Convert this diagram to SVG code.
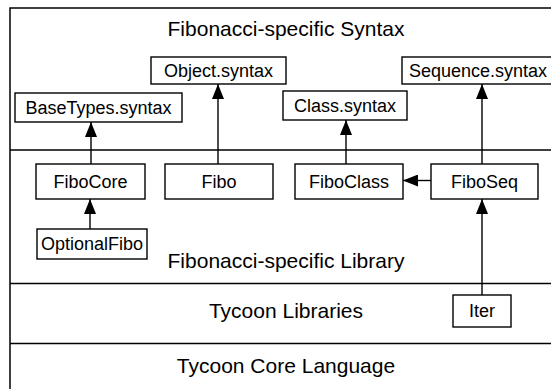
<svg xmlns="http://www.w3.org/2000/svg" width="551" height="389" viewBox="0 0 551 389">
<style>
.frame{stroke:#000;stroke-width:1.5;fill:none}
.box{fill:#fff;stroke:#000;stroke-width:1.4}
.lbl{font-family:"Liberation Sans",Arial,sans-serif;font-size:18px;fill:#000;text-anchor:middle}
.ttl{font-family:"Liberation Sans",Arial,sans-serif;font-size:21px;fill:#000;text-anchor:middle}
.edge{stroke:#000;stroke-width:1.4;fill:none;marker-end:url(#ah)}
</style>
<defs>
<marker id="ah" markerWidth="15" markerHeight="12" refX="15" refY="6" orient="auto" markerUnits="userSpaceOnUse" viewBox="0 0 15 12">
<path d="M0,0 L15,6 L0,12 Z" fill="#000"/>
</marker>
</defs>
<rect width="551" height="389" fill="#fff"/>
<g id="layers">
<path class="frame" d="M10,389 V8 H551 M10,150 H551 M10,283.5 H551 M10,343.5 H551"/>
<text class="ttl" x="286" y="36">Fibonacci-specific Syntax</text>
<text class="ttl" x="286" y="268">Fibonacci-specific Library</text>
<text class="ttl" x="286" y="318">Tycoon Libraries</text>
<text class="ttl" x="286" y="373">Tycoon Core Language</text>
</g>
<g id="connectors">
<line class="edge" x1="91" y1="164" x2="91" y2="122"/>
<line class="edge" x1="218" y1="164" x2="218" y2="84"/>
<line class="edge" x1="346" y1="164" x2="346" y2="120"/>
<line class="edge" x1="482" y1="164" x2="482" y2="84"/>
<line class="edge" x1="431" y1="180.5" x2="403" y2="180.5"/>
<line class="edge" x1="90" y1="229" x2="90" y2="199"/>
<line class="edge" x1="482" y1="295" x2="482" y2="199"/>
</g>
<g id="BaseTypes.syntax"><rect class="box" x="15" y="93" width="167" height="29"/><text class="lbl" x="98.5" y="114">BaseTypes.syntax</text></g>
<g id="Object.syntax"><rect class="box" x="151" y="57" width="135" height="27"/><text class="lbl" x="218.5" y="77">Object.syntax</text></g>
<g id="Class.syntax"><rect class="box" x="283" y="91" width="124" height="29"/><text class="lbl" x="345" y="112">Class.syntax</text></g>
<g id="Sequence.syntax"><rect class="box" x="402" y="57" width="152" height="27"/><text class="lbl" x="478" y="77">Sequence.syntax</text></g>
<g id="FiboCore"><rect class="box" x="36" y="164" width="109" height="35"/><text class="lbl" x="90.5" y="188">FiboCore</text></g>
<g id="Fibo"><rect class="box" x="165" y="164" width="108" height="35"/><text class="lbl" x="219" y="188">Fibo</text></g>
<g id="FiboClass"><rect class="box" x="295" y="164" width="108" height="35"/><text class="lbl" x="349" y="188">FiboClass</text></g>
<g id="FiboSeq"><rect class="box" x="431" y="164" width="107" height="35"/><text class="lbl" x="484.5" y="188">FiboSeq</text></g>
<g id="OptionalFibo"><rect class="box" x="37" y="229" width="110" height="30"/><text class="lbl" x="92" y="250">OptionalFibo</text></g>
<g id="Iter"><rect class="box" x="453" y="295" width="58" height="32"/><text class="lbl" x="482" y="317">Iter</text></g>
</svg>
